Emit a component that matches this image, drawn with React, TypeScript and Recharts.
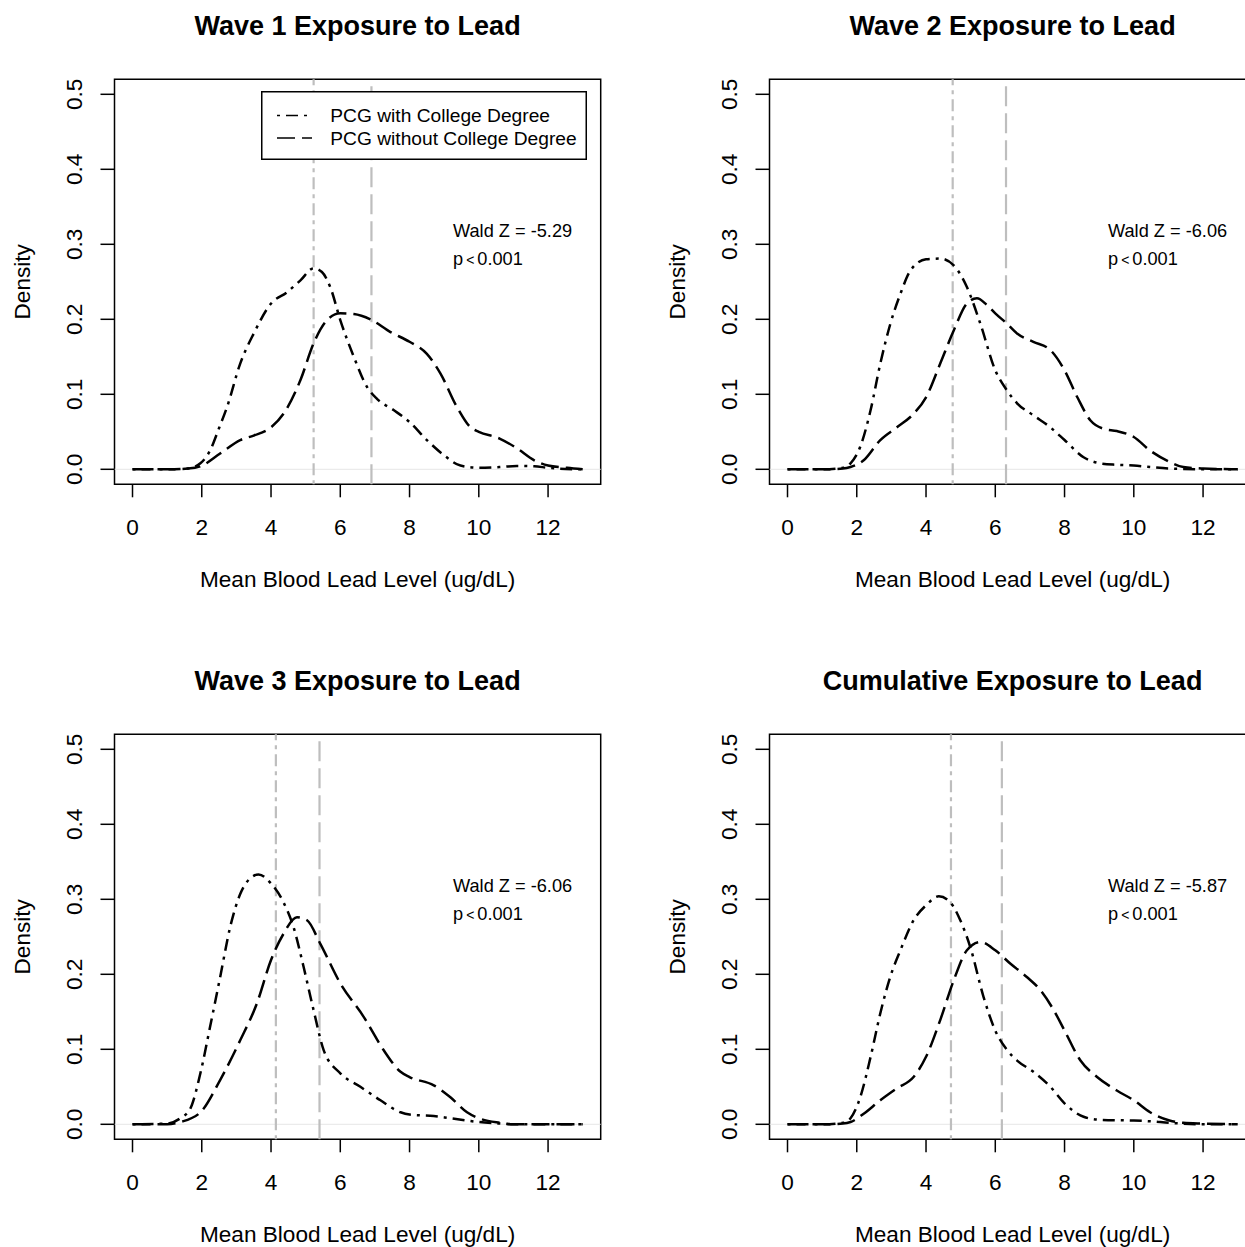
import React from "react";
import {
  LineChart, Line, XAxis, YAxis, ReferenceLine, ReferenceArea, Legend,
} from "recharts";

type Pt = [number, number];

const xTicks = [0, 2, 4, 6, 8, 10, 12];
const yTicks = [0, 0.1, 0.2, 0.3, 0.4, 0.5];

const titles = [
  "Wave 1 Exposure to Lead",
  "Wave 2 Exposure to Lead",
  "Wave 3 Exposure to Lead",
  "Cumulative Exposure to Lead",
];
const waldZ = ["-5.29", "-6.06", "-6.06", "-5.87"];
const meanCollege = [5.23, 4.77, 4.14, 4.72];
const meanNoCollege = [6.9, 6.31, 5.4, 6.19];
const seriesNames = ["PCG with College Degree", "PCG without College Degree"];

// density curves, [blood lead, density]
const w1College: Pt[] = [
  [0, 0], [1.0, 0], [1.6, 0.001], [1.96, 0.008], [2.24, 0.025], [2.5, 0.055], [2.73, 0.083],
  [3.11, 0.141], [3.5, 0.181], [4.0, 0.221], [4.46, 0.236], [4.85, 0.252], [5.23, 0.268],
  [5.47, 0.263], [5.71, 0.243], [6.0, 0.199], [6.39, 0.15], [6.77, 0.11], [7.06, 0.094],
  [7.54, 0.079], [8.0, 0.063], [8.5, 0.039], [8.99, 0.019], [9.47, 0.005], [10.0, 0.002],
  [10.6, 0.003], [11.1, 0.0045], [11.6, 0.004], [12.0, 0.002], [12.5, 0.0005], [13, 0],
];
const w1NoCollege: Pt[] = [
  [0, 0], [1.0, 0], [1.6, 0.001], [1.96, 0.004], [2.53, 0.021], [3.11, 0.039], [3.5, 0.045],
  [4.0, 0.056], [4.36, 0.074], [4.85, 0.119], [5.23, 0.168], [5.62, 0.199], [6.0, 0.208],
  [6.39, 0.207], [6.87, 0.2], [7.45, 0.183], [8.0, 0.17], [8.5, 0.154], [8.89, 0.128],
  [9.37, 0.083], [9.76, 0.056], [10.0, 0.05], [10.6, 0.041], [11.1, 0.028], [11.6, 0.012],
  [12.0, 0.005], [12.55, 0.002], [13, 0],
];
const w2College: Pt[] = [
  [0, 0], [1.0, 0], [1.62, 0.002], [1.82, 0.008], [2.1, 0.03], [2.4, 0.079], [2.68, 0.141],
  [2.97, 0.194], [3.26, 0.234], [3.55, 0.265], [4.0, 0.28], [4.41, 0.281], [4.8, 0.272],
  [5.18, 0.243], [5.57, 0.194], [6.0, 0.132], [6.34, 0.105], [6.63, 0.088], [7.1, 0.072],
  [7.59, 0.056], [8.0, 0.039], [8.55, 0.016], [9.03, 0.008], [9.51, 0.006], [10.0, 0.005],
  [10.47, 0.003], [11.03, 0.001], [12, 0], [13, 0],
];
const w2NoCollege: Pt[] = [
  [0, 0], [1.0, 0], [1.6, 0.001], [1.82, 0.003], [2.2, 0.012], [2.68, 0.039], [3.16, 0.056],
  [3.64, 0.074], [4.0, 0.096], [4.41, 0.141], [4.8, 0.185], [5.18, 0.221], [5.47, 0.228],
  [5.76, 0.219], [6.0, 0.208], [6.34, 0.194], [6.63, 0.181], [7.1, 0.17], [7.59, 0.159],
  [8.0, 0.132], [8.37, 0.096], [8.75, 0.065], [9.13, 0.054], [9.51, 0.051], [10.0, 0.043],
  [10.47, 0.025], [11.03, 0.01], [11.43, 0.003], [12, 0.001], [13, 0],
];
const w3College: Pt[] = [
  [0, 0], [1.0, 0.001], [1.38, 0.008], [1.67, 0.021], [1.96, 0.068], [2.24, 0.13],
  [2.53, 0.196], [2.82, 0.263], [3.11, 0.307], [3.4, 0.328], [3.64, 0.333], [4.0, 0.321],
  [4.36, 0.296], [4.65, 0.263], [4.94, 0.21], [5.23, 0.152], [5.52, 0.099], [6.0, 0.068],
  [6.58, 0.05], [7.16, 0.032], [7.74, 0.016], [8.0, 0.013], [8.7, 0.011], [9.18, 0.008],
  [9.66, 0.005], [10.0, 0.003], [10.6, 0.001], [11, 0], [13, 0],
];
const w3NoCollege: Pt[] = [
  [0, 0], [1.0, 0], [1.38, 0.003], [1.96, 0.016], [2.53, 0.059], [3.11, 0.112],
  [3.59, 0.161], [4.0, 0.219], [4.36, 0.254], [4.75, 0.276], [5.04, 0.272], [5.42, 0.241],
  [6.0, 0.188], [6.68, 0.143], [7.25, 0.099], [7.74, 0.07], [8.0, 0.063], [8.7, 0.052],
  [9.18, 0.036], [9.66, 0.016], [10.0, 0.008], [10.6, 0.002], [11, 0], [13, 0],
];
const cumCollege: Pt[] = [
  [0, 0], [1.0, 0], [1.62, 0.002], [1.82, 0.008], [2.1, 0.036], [2.4, 0.09], [2.68, 0.148],
  [2.97, 0.197], [3.26, 0.232], [3.64, 0.272], [4.0, 0.292], [4.37, 0.304], [4.7, 0.296],
  [4.99, 0.272], [5.28, 0.236], [5.66, 0.17], [6.0, 0.125], [6.34, 0.099], [6.63, 0.085],
  [7.1, 0.07], [7.59, 0.05], [8.0, 0.028], [8.55, 0.01], [9.03, 0.006], [10.0, 0.005],
  [10.47, 0.004], [11.03, 0.002], [12, 0], [13, 0],
];
const cumNoCollege: Pt[] = [
  [0, 0], [1.0, 0], [1.6, 0.001], [1.82, 0.003], [2.2, 0.014], [2.68, 0.032], [3.16, 0.048],
  [3.64, 0.063], [4.0, 0.09], [4.41, 0.139], [4.8, 0.192], [5.18, 0.232], [5.57, 0.243],
  [6.0, 0.232], [6.44, 0.214], [6.92, 0.196], [7.3, 0.179], [7.69, 0.152], [8.0, 0.125],
  [8.46, 0.085], [8.94, 0.063], [9.51, 0.045], [10.0, 0.032], [10.47, 0.016], [11.03, 0.005],
  [11.43, 0.002], [12, 0.001], [13, 0],
];

const college = [w1College, w2College, w3College, cumCollege];
const noCollege = [w1NoCollege, w2NoCollege, w3NoCollege, cumNoCollege];

const FONT = '"Liberation Sans", Arial, Helvetica, sans-serif';
const DOTDASH = "3 6 12 6";
const LONGDASH = "18 7";
const W = 655;
const H = 655;
const BOX = { left: 114.5, right: 600.7, top: 79.3, bottom: 484.3 };
const X_DOMAIN: [number, number] = [-0.52, 13.52];
const Y_DOMAIN: [number, number] = [-0.02, 0.52];

const toRows = (pts: Pt[]) => pts.map(([x, d]) => ({ x, d }));

function XTick(props: any) {
  const { x, y, payload } = props;
  return (
    <text x={x} y={y + 38} textAnchor="middle" fontSize={22.6} fontFamily={FONT} fill="#000">
      {payload.value}
    </text>
  );
}

function YTick(props: any) {
  const { x, y, payload } = props;
  const bx = x - 18.5;
  return (
    <text x={bx} y={y} transform={`rotate(-90 ${bx} ${y})`} textAnchor="middle"
          fontSize={22.6} fontFamily={FONT} fill="#000">
      {payload.value.toFixed(1)}
    </text>
  );
}

function LegendBox() {
  const dashes = [DOTDASH, LONGDASH];
  return (
    <svg width={326} height={69} style={{ display: "block" }}>
      <rect x={0.75} y={0.75} width={324.5} height={67.5} fill="#fff" stroke="#000" strokeWidth={1.5} />
      {seriesNames.map((name, i) => (
        <g key={name}>
          <line x1={16} x2={51} y1={24.4 + i * 22.6} y2={24.4 + i * 22.6}
                stroke="#000" strokeWidth={1.5} strokeDasharray={dashes[i]} />
          <text x={69.3} y={24.4 + i * 22.6 + 7} fontSize={19.2} fontFamily={FONT} fill="#000">
            {name}
          </text>
        </g>
      ))}
    </svg>
  );
}

function Panel({ idx, left, top }: { idx: number; left: number; top: number }) {
  const cx = (BOX.left + BOX.right) / 2;
  const cy = (BOX.top + BOX.bottom) / 2;
  const tickLine = { stroke: "#000", strokeWidth: 1.5 };
  return (
    <div style={{ position: "absolute", left, top, width: W, height: H }}>
      <LineChart width={W} height={H}
                 margin={{ top: BOX.top, right: W - BOX.right, bottom: 0, left: 0 }}>
        <XAxis type="number" dataKey="x" domain={X_DOMAIN} allowDataOverflow ticks={xTicks}
               interval={0} height={H - BOX.bottom} tickSize={13} tickMargin={0}
               axisLine={false} tickLine={tickLine} tick={XTick} />
        <YAxis type="number" domain={Y_DOMAIN} allowDataOverflow ticks={yTicks} interval={0}
               width={BOX.left} tickSize={14} tickMargin={0} axisLine={false}
               tickLine={tickLine} tick={YTick} />
        <ReferenceLine y={0} stroke="#e6e6e6" strokeWidth={1} />
        <ReferenceLine x={meanCollege[idx]} stroke="#bebebe" strokeWidth={2.2}
                       strokeDasharray="4 5 12 5" />
        <ReferenceLine x={meanNoCollege[idx]} stroke="#bebebe" strokeWidth={2.2}
                       strokeDasharray="20 7" />
        <Line data={toRows(college[idx])} dataKey="d" name={seriesNames[0]} type="monotone"
              stroke="#000" strokeWidth={2.5} strokeDasharray={DOTDASH} dot={false}
              isAnimationActive={false} />
        <Line data={toRows(noCollege[idx])} dataKey="d" name={seriesNames[1]} type="monotone"
              stroke="#000" strokeWidth={2.5} strokeDasharray={LONGDASH} dot={false}
              isAnimationActive={false} />
        <ReferenceArea x1={X_DOMAIN[0]} x2={X_DOMAIN[1]} y1={Y_DOMAIN[0]} y2={Y_DOMAIN[1]}
                       fill="none" fillOpacity={0} stroke="#000" strokeWidth={1.5} />
        {idx === 0 && (
          <Legend layout="vertical" align="center" verticalAlign="middle"
                  wrapperStyle={{ left: 260.7, top: 91.3, width: 326, height: 69 }}
                  content={LegendBox} />
        )}
      </LineChart>
      <svg width={W} height={H}
           style={{ position: "absolute", left: 0, top: 0, pointerEvents: "none" }}
           fontFamily={FONT} fill="#000">
        <text x={cx} y={35} textAnchor="middle" fontSize={27} fontWeight="bold">{titles[idx]}</text>
        <text x={cx} y={587} textAnchor="middle" fontSize={22.6}>Mean Blood Lead Level (ug/dL)</text>
        <text x={30} y={cy} transform={`rotate(-90 30 ${cy})`} textAnchor="middle" fontSize={22.6}>
          Density
        </text>
        <text x={453} y={237} fontSize={18.2}>Wald Z = {waldZ[idx]}</text>
        <text x={453} y={265} fontSize={18.2}>
          p<tspan dx={3} fontSize={14}>&lt;</tspan><tspan dx={3}>0.001</tspan>
        </text>
      </svg>
    </div>
  );
}

export default function App() {
  return (
    <div style={{ position: "absolute", left: 0, top: 0, width: 1245, height: 1247,
                  overflow: "hidden", background: "#fff" }}>
      <Panel idx={0} left={0} top={0} />
      <Panel idx={1} left={654.5} top={0} />
      <Panel idx={2} left={0} top={655} />
      <Panel idx={3} left={654.5} top={655} />
    </div>
  );
}
